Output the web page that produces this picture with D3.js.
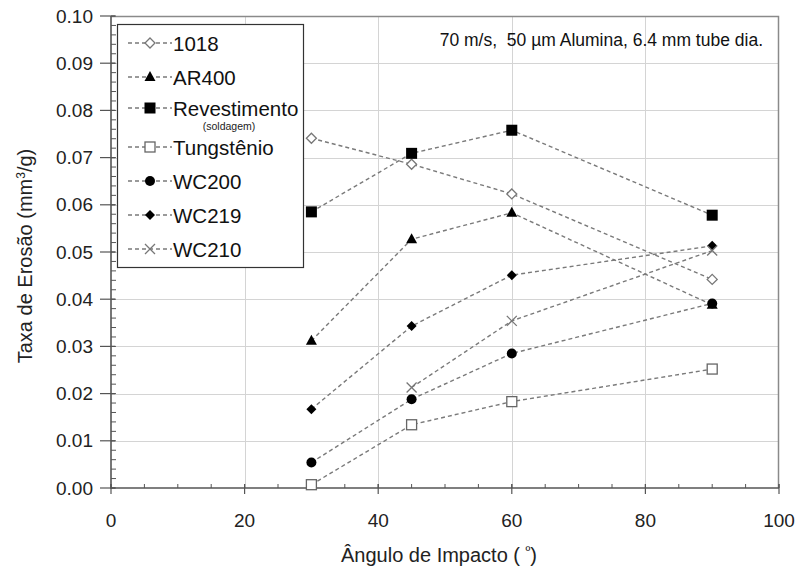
<!DOCTYPE html>
<html>
<head>
<meta charset="utf-8">
<script src="https://cdn.jsdelivr.net/npm/d3@7"></script>
<style>
  body { margin: 0; background: #fff; }
  svg { display: block; font-family: "Liberation Sans", Arial, sans-serif; }
</style>
</head>
<body>
<svg id="chart" width="799" height="569"></svg>
<script>
// angles (x) and erosion rates per material
const angles = [30, 45, 60, 90];
const s1018 = [0.0741, 0.0686, 0.0623, 0.0442];
const sAR400 = [0.0312, 0.0527, 0.0583, 0.0388];
const sRevest = [0.0585, 0.0709, 0.0758, 0.0578];
const sTung = [0.0007, 0.0134, 0.0183, 0.0252];
const sWC200 = [0.0054, 0.0188, 0.0285, 0.0391];
const sWC219 = [0.0167, 0.0343, 0.0451, 0.0513];
const sWC210 = [null, 0.0213, 0.0354, 0.0503];

const xTicks = [0, 20, 40, 60, 80, 100];
const yTicks = [0, 0.01, 0.02, 0.03, 0.04, 0.05, 0.06, 0.07, 0.08, 0.09, 0.10];

const series = [
  { name: "1018", values: s1018, marker: "diamondOpen" },
  { name: "AR400", values: sAR400, marker: "triangle" },
  { name: "Revestimento", values: sRevest, marker: "square", sub: "(soldagem)" },
  { name: "Tungstênio", values: sTung, marker: "squareOpen" },
  { name: "WC200", values: sWC200, marker: "circle" },
  { name: "WC219", values: sWC219, marker: "diamond" },
  { name: "WC210", values: sWC210, marker: "cross" },
];

const svg = d3.select("#chart");
const pLeft = 111, pRight = 779, pTop = 16, pBottom = 488;

const x = d3.scaleLinear().domain([0, 100]).range([pLeft, pRight]);
const y = d3.scaleLinear().domain([0, 0.1]).range([pBottom, pTop]);

// gridlines
const grid = svg.append("g").attr("stroke", "#d4d4d4").attr("stroke-width", 1);
grid.selectAll("line.h").data(yTicks.slice(1, -1)).join("line")
  .attr("x1", pLeft).attr("x2", pRight)
  .attr("y1", d => Math.round(y(d)) + 0.5).attr("y2", d => Math.round(y(d)) + 0.5);
grid.selectAll("line.v").data(xTicks.slice(1, -1)).join("line")
  .attr("y1", pTop).attr("y2", pBottom)
  .attr("x1", d => Math.round(x(d)) + 0.5).attr("x2", d => Math.round(x(d)) + 0.5);

// frame top/right
svg.append("path")
  .attr("d", `M${pLeft},${pTop + 0.5}H${pRight - 0.5}V${pBottom}`)
  .attr("fill", "none").attr("stroke", "#8a8a8a").attr("stroke-width", 1.5);

// axes
const axisG = svg.append("g").attr("stroke", "#555").attr("fill", "none");
axisG.append("line").attr("x1", pLeft).attr("x2", pLeft).attr("y1", pTop).attr("y2", pBottom + 1)
  .attr("stroke-width", 1.6);
axisG.append("line").attr("x1", pLeft).attr("x2", pRight).attr("y1", pBottom).attr("y2", pBottom)
  .attr("stroke-width", 1.6);

// y ticks: major crossing, minor inside
axisG.selectAll("line.ymaj").data(yTicks).join("line")
  .attr("x1", pLeft - 11).attr("x2", pLeft + 4)
  .attr("y1", d => y(d)).attr("y2", d => y(d)).attr("stroke-width", 1.2);
axisG.selectAll("line.ymin").data(d3.range(0, 0.1001, 0.002)).join("line")
  .attr("x1", pLeft).attr("x2", pLeft + 5)
  .attr("y1", d => y(d)).attr("y2", d => y(d)).attr("stroke-width", 1);

// x ticks
axisG.selectAll("line.xmaj").data(xTicks).join("line")
  .attr("x1", d => x(d)).attr("x2", d => x(d))
  .attr("y1", pBottom - 4).attr("y2", pBottom + 6).attr("stroke-width", 1.2);
axisG.selectAll("line.xmin").data(d3.range(0, 100.1, 5)).join("line")
  .attr("x1", d => x(d)).attr("x2", d => x(d))
  .attr("y1", pBottom - 4).attr("y2", pBottom).attr("stroke-width", 1);

// tick labels
svg.append("g").selectAll("text").data(yTicks).join("text")
  .attr("x", 93).attr("y", d => y(d) + 6.5)
  .attr("text-anchor", "end").attr("font-size", 19).attr("fill", "#222")
  .text(d => d.toFixed(2));
svg.append("g").selectAll("text").data(xTicks).join("text")
  .attr("x", d => x(d)).attr("y", 527)
  .attr("text-anchor", "middle").attr("font-size", 19).attr("fill", "#222")
  .text(d => d);

// axis titles
svg.append("text")
  .attr("transform", `translate(32,256) rotate(-90)`)
  .attr("text-anchor", "middle").attr("font-size", 20).attr("fill", "#222")
  .html('Taxa de Erosão (mm<tspan dy="-7" font-size="12">3</tspan><tspan dy="7">/g)</tspan>');
svg.append("text")
  .attr("x", 439).attr("y", 562)
  .attr("text-anchor", "middle").attr("font-size", 20).attr("fill", "#222")
  .html('Ângulo de Impacto ( <tspan dy="-7" font-size="13">º</tspan><tspan dy="7">)</tspan>');

// annotation
svg.append("text")
  .attr("x", 763).attr("y", 46)
  .attr("text-anchor", "end").attr("font-size", 17.5).attr("fill", "#111")
  .style("white-space", "pre")
  .text("70 m/s,  50 µm Alumina, 6.4 mm tube dia.");

function drawMarker(g, type) {
  switch (type) {
    case "diamondOpen":
      g.append("path").attr("d", "M0,-5L5,0L0,5L-5,0Z")
        .attr("fill", "#fff").attr("stroke", "#777").attr("stroke-width", 1.3);
      break;
    case "triangle":
      g.append("path").attr("d", "M0,-6L5.5,4L-5.5,4Z").attr("fill", "#000");
      break;
    case "square":
      g.append("rect").attr("x", -5.5).attr("y", -5.5).attr("width", 11).attr("height", 11).attr("fill", "#000");
      break;
    case "squareOpen":
      g.append("rect").attr("x", -5).attr("y", -5).attr("width", 10).attr("height", 10)
        .attr("fill", "#fff").attr("stroke", "#666").attr("stroke-width", 1.3);
      break;
    case "circle":
      g.append("circle").attr("r", 5).attr("fill", "#000");
      break;
    case "diamond":
      g.append("path").attr("d", "M0,-5L5,0L0,5L-5,0Z").attr("fill", "#000");
      break;
    case "cross":
      g.append("path").attr("d", "M-5,-5L5,5M-5,5L5,-5")
        .attr("stroke", "#777").attr("stroke-width", 1.3).attr("fill", "none");
      break;
  }
}

// series lines + markers
const line = d3.line()
  .defined(d => d[1] !== null)
  .x(d => x(d[0])).y(d => y(d[1]));

const plot = svg.append("g");
series.forEach(s => {
  const pts = angles.map((a, i) => [a, s.values[i]]);
  plot.append("path").datum(pts)
    .attr("d", line).attr("fill", "none")
    .attr("stroke", "#7a7a7a").attr("stroke-width", 1.4)
    .attr("stroke-dasharray", "4,3");
});
series.forEach(s => {
  angles.forEach((a, i) => {
    if (s.values[i] === null) return;
    const g = plot.append("g").attr("transform", `translate(${x(a)},${y(s.values[i])})`);
    drawMarker(g, s.marker);
  });
});

// legend
const legend = svg.append("g");
legend.append("rect")
  .attr("x", 117.5).attr("y", 24.5).attr("width", 186).attr("height", 243)
  .attr("fill", "#fff").attr("stroke", "#333").attr("stroke-width", 1.2);
const legendY = [43, 77, 108, 147, 181, 215, 249];
series.forEach((s, i) => {
  const ly = legendY[i];
  legend.append("line")
    .attr("x1", 128).attr("x2", 172).attr("y1", ly).attr("y2", ly)
    .attr("stroke", "#7a7a7a").attr("stroke-width", 1.4).attr("stroke-dasharray", "4,3");
  const g = legend.append("g").attr("transform", `translate(150,${ly})`);
  drawMarker(g, s.marker);
  legend.append("text")
    .attr("x", 173).attr("y", ly + 7.5)
    .attr("font-size", 20.5).attr("fill", "#111")
    .text(s.name);
  if (s.sub) {
    legend.append("text")
      .attr("x", 229).attr("y", ly + 22)
      .attr("text-anchor", "middle").attr("font-size", 10.5).attr("fill", "#222")
      .text(s.sub);
  }
});
</script>
</body>
</html>
